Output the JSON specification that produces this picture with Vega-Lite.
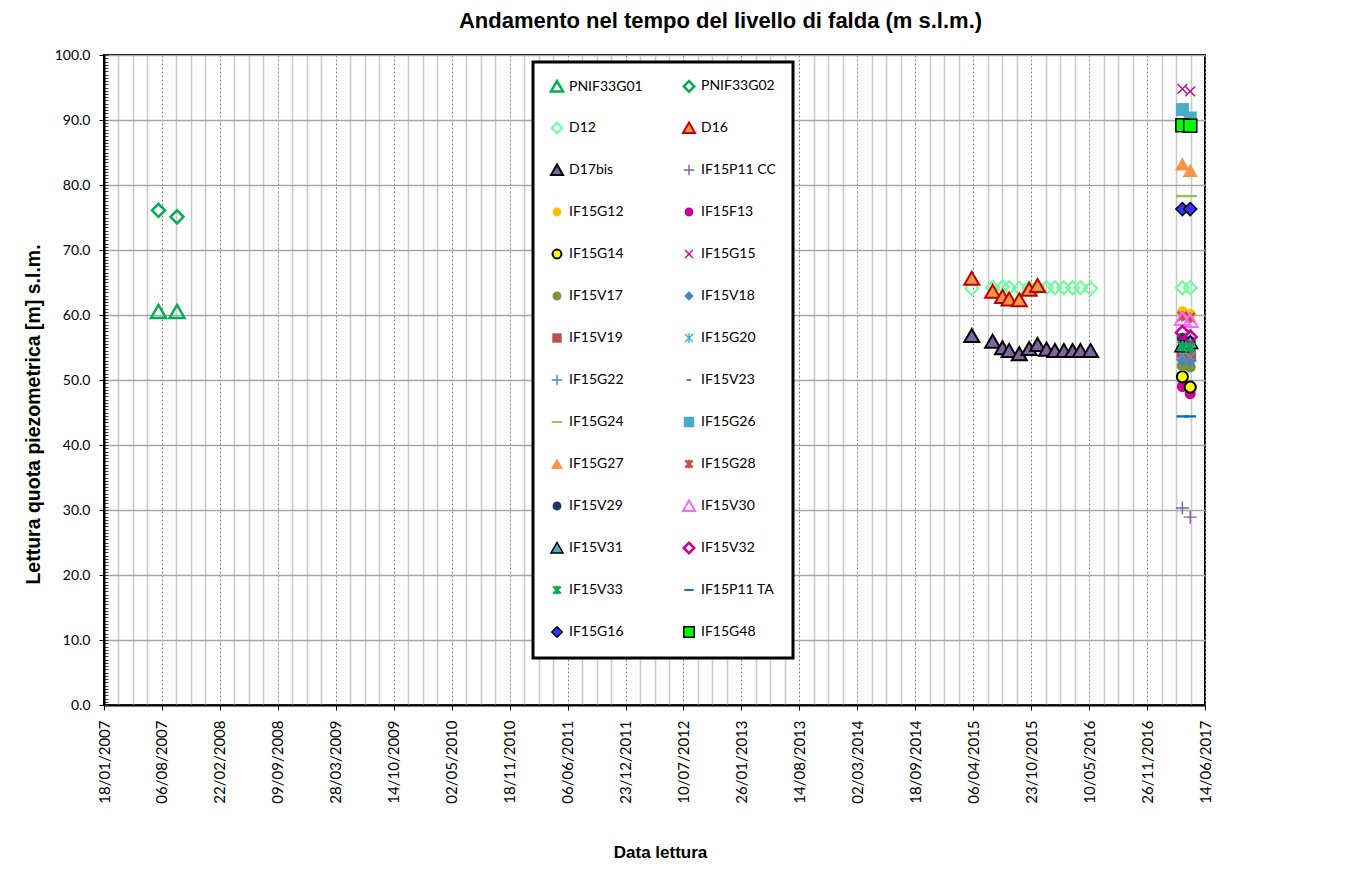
{
  "$schema": "https://vega.github.io/schema/vega-lite/v6.json",
  "width": 1101,
  "height": 650,
  "autosize": "none",
  "padding": {"left": 104, "top": 55, "right": 166, "bottom": 178},
  "background": "white",
  "title": {"text": "Andamento nel tempo del livello di falda (m s.l.m.)", "font": "Liberation Sans", "fontSize": 22, "fontWeight": "bold", "color": "black", "anchor": "middle", "frame": "group", "dx": 66, "offset": 15},
  "config": {"view": {"stroke": "black", "strokeWidth": 2}, "legend": {"strokeWidth": 3, "gridAlign": "all"}},
  "data": {"values": [
    {"serie": "PNIF33G01", "data": "2007-07-25", "quota": 60.5},
    {"serie": "PNIF33G01", "data": "2007-09-27", "quota": 60.5},
    {"serie": "PNIF33G02", "data": "2007-07-25", "quota": 76.1},
    {"serie": "PNIF33G02", "data": "2007-09-27", "quota": 75.1},
    {"serie": "D12", "data": "2015-04-01", "quota": 64.1},
    {"serie": "D12", "data": "2015-06-12", "quota": 64.2},
    {"serie": "D12", "data": "2015-07-16", "quota": 64.3},
    {"serie": "D12", "data": "2015-08-08", "quota": 64.2},
    {"serie": "D12", "data": "2015-09-12", "quota": 64.1},
    {"serie": "D12", "data": "2015-10-16", "quota": 64.2},
    {"serie": "D12", "data": "2015-11-14", "quota": 64.3},
    {"serie": "D12", "data": "2015-12-15", "quota": 64.2},
    {"serie": "D12", "data": "2016-01-13", "quota": 64.2},
    {"serie": "D12", "data": "2016-02-13", "quota": 64.2},
    {"serie": "D12", "data": "2016-03-14", "quota": 64.2},
    {"serie": "D12", "data": "2016-04-10", "quota": 64.2},
    {"serie": "D12", "data": "2016-05-15", "quota": 64.1},
    {"serie": "D12", "data": "2017-03-28", "quota": 64.2},
    {"serie": "D12", "data": "2017-04-24", "quota": 64.2},
    {"serie": "D16", "data": "2015-04-01", "quota": 65.6},
    {"serie": "D16", "data": "2015-06-12", "quota": 63.6},
    {"serie": "D16", "data": "2015-07-16", "quota": 62.8},
    {"serie": "D16", "data": "2015-08-08", "quota": 62.4},
    {"serie": "D16", "data": "2015-09-12", "quota": 62.3},
    {"serie": "D16", "data": "2015-10-16", "quota": 63.9},
    {"serie": "D16", "data": "2015-11-14", "quota": 64.5},
    {"serie": "D17bis", "data": "2015-04-01", "quota": 56.8},
    {"serie": "D17bis", "data": "2015-06-12", "quota": 55.9},
    {"serie": "D17bis", "data": "2015-07-16", "quota": 54.9},
    {"serie": "D17bis", "data": "2015-08-08", "quota": 54.5},
    {"serie": "D17bis", "data": "2015-09-12", "quota": 54.0},
    {"serie": "D17bis", "data": "2015-10-16", "quota": 54.8},
    {"serie": "D17bis", "data": "2015-11-14", "quota": 55.4},
    {"serie": "D17bis", "data": "2015-12-15", "quota": 54.7},
    {"serie": "D17bis", "data": "2016-01-13", "quota": 54.5},
    {"serie": "D17bis", "data": "2016-02-13", "quota": 54.5},
    {"serie": "D17bis", "data": "2016-03-14", "quota": 54.5},
    {"serie": "D17bis", "data": "2016-04-10", "quota": 54.5},
    {"serie": "D17bis", "data": "2016-05-15", "quota": 54.5},
    {"serie": "IF15P11 CC", "data": "2017-03-28", "quota": 30.3},
    {"serie": "IF15P11 CC", "data": "2017-04-24", "quota": 28.9},
    {"serie": "IF15G12", "data": "2017-03-28", "quota": 60.5},
    {"serie": "IF15G12", "data": "2017-04-24", "quota": 60.1},
    {"serie": "IF15F13", "data": "2017-03-28", "quota": 49.0},
    {"serie": "IF15F13", "data": "2017-04-24", "quota": 47.9},
    {"serie": "IF15G14", "data": "2017-03-28", "quota": 50.5},
    {"serie": "IF15G14", "data": "2017-04-24", "quota": 48.9},
    {"serie": "IF15G15", "data": "2017-03-28", "quota": 94.8},
    {"serie": "IF15G15", "data": "2017-04-24", "quota": 94.4},
    {"serie": "IF15V17", "data": "2017-03-28", "quota": 52.2},
    {"serie": "IF15V17", "data": "2017-04-24", "quota": 52.0},
    {"serie": "IF15V18", "data": "2017-03-28", "quota": 53.0},
    {"serie": "IF15V18", "data": "2017-04-24", "quota": 52.9},
    {"serie": "IF15V19", "data": "2017-03-28", "quota": 54.3},
    {"serie": "IF15V19", "data": "2017-04-24", "quota": 54.0},
    {"serie": "IF15G20", "data": "2017-03-28", "quota": 53.8},
    {"serie": "IF15G20", "data": "2017-04-24", "quota": 53.5},
    {"serie": "IF15G22", "data": "2017-03-28", "quota": 53.2},
    {"serie": "IF15G22", "data": "2017-04-24", "quota": 53.0},
    {"serie": "IF15V23", "data": "2017-03-28", "quota": 54.5},
    {"serie": "IF15V23", "data": "2017-04-24", "quota": 54.2},
    {"serie": "IF15G24", "data": "2017-03-28", "quota": 78.3},
    {"serie": "IF15G24", "data": "2017-04-24", "quota": 78.3},
    {"serie": "IF15G26", "data": "2017-03-28", "quota": 91.6},
    {"serie": "IF15G26", "data": "2017-04-24", "quota": 90.3},
    {"serie": "IF15G27", "data": "2017-03-28", "quota": 83.2},
    {"serie": "IF15G27", "data": "2017-04-24", "quota": 82.2},
    {"serie": "IF15G28", "data": "2017-03-28", "quota": 59.8},
    {"serie": "IF15G28", "data": "2017-04-24", "quota": 59.6},
    {"serie": "IF15V29", "data": "2017-03-28", "quota": 56.4},
    {"serie": "IF15V29", "data": "2017-04-24", "quota": 55.9},
    {"serie": "IF15V30", "data": "2017-03-28", "quota": 59.4},
    {"serie": "IF15V30", "data": "2017-04-24", "quota": 59.1},
    {"serie": "IF15V31", "data": "2017-03-28", "quota": 55.3},
    {"serie": "IF15V31", "data": "2017-04-24", "quota": 55.8},
    {"serie": "IF15V32", "data": "2017-03-28", "quota": 57.3},
    {"serie": "IF15V32", "data": "2017-04-24", "quota": 56.6},
    {"serie": "IF15V33", "data": "2017-03-28", "quota": 55.2},
    {"serie": "IF15V33", "data": "2017-04-24", "quota": 55.0},
    {"serie": "IF15P11 TA", "data": "2017-03-28", "quota": 44.4},
    {"serie": "IF15P11 TA", "data": "2017-04-24", "quota": 44.4},
    {"serie": "IF15G16", "data": "2017-03-28", "quota": 76.3},
    {"serie": "IF15G16", "data": "2017-04-24", "quota": 76.3},
    {"serie": "IF15G48", "data": "2017-03-28", "quota": 89.2},
    {"serie": "IF15G48", "data": "2017-04-24", "quota": 89.1}
  ]},
  "layer": [
    {
      "mark": {"type": "point", "opacity": 0},
      "encoding": {
        "x": {"field": "data", "type": "temporal",
          "scale": {"type": "utc", "domain": [1169078400000, 1497398400000], "nice": false},
          "axis": {"orient": "bottom", "title": null, "labels": false, "ticks": false, "domain": false, "grid": true, "gridColor": "#C8C8C8", "gridWidth": 1.5,
            "values": [1173398400000,1177718400000,1182038400000,1190678400000,1194998400000,1199318400000,1207958400000,1212278400000,1216598400000,1225238400000,1229558400000,1233878400000,1242518400000,1246838400000,1251158400000,1259798400000,1264118400000,1268438400000,1277078400000,1281398400000,1285718400000,1294358400000,1298678400000,1302998400000,1311638400000,1315958400000,1320278400000,1328918400000,1333238400000,1337558400000,1346198400000,1350518400000,1354838400000,1363478400000,1367798400000,1372118400000,1380758400000,1385078400000,1389398400000,1398038400000,1402358400000,1406678400000,1415318400000,1419638400000,1423958400000,1432598400000,1436918400000,1441238400000,1449878400000,1454198400000,1458518400000,1467158400000,1471478400000,1475798400000,1484438400000,1488758400000,1493078400000]}},
        "y": {"field": "quota", "type": "quantitative",
          "scale": {"domain": [0, 100], "nice": false, "zero": false},
          "axis": {"orient": "left", "title": null, "labels": false, "grid": false, "domain": false, "ticks": true, "tickCount": 200, "tickSize": 4, "offset": -4, "tickColor": "#404040", "tickWidth": 1}}
      }
    },
    {
      "mark": {"type": "point", "opacity": 1, "filled": true, "size": 170},
      "encoding": {
        "x": {"field": "data", "type": "temporal",
          "axis": {"orient": "bottom", "title": "Data lettura", "titleFont": "Liberation Sans", "titleFontSize": 17, "titleFontWeight": "bold", "titleColor": "black", "titleX": 556, "titleY": 147, "titleBaseline": "middle", "titleAlign": "center",
            "values": [1169078400000,1186358400000,1203638400000,1220918400000,1238198400000,1255478400000,1272758400000,1290038400000,1307318400000,1324598400000,1341878400000,1359158400000,1376438400000,1393718400000,1410998400000,1428278400000,1445558400000,1462838400000,1480118400000,1497398400000],
            "labelExpr": "utcFormat(datum.value, '%d/%m/%Y')", "labelAngle": -90, "labelFont": "Lato", "labelFontSize": 15, "labelColor": "black", "labelPadding": 10, "labelFlush": false, "labelOverlap": false,
            "tickSize": 5, "tickColor": "black", "domainColor": "black", "domainWidth": 2,
            "grid": true, "gridColor": "#808080", "gridDash": [2, 2], "gridWidth": 1}},
        "y": {"field": "quota", "type": "quantitative",
          "axis": {"orient": "left", "title": "Lettura quota piezometrica [m] s.l.m.", "titleFont": "Liberation Sans", "titleFontSize": 19.5, "titleFontWeight": "bold", "titleColor": "black", "titleX": -71, "titleY": 359, "titleAngle": -90, "titleAlign": "center", "titleBaseline": "middle",
            "values": [0, 10, 20, 30, 40, 50, 60, 70, 80, 90, 100], "format": ".1f", "labelFont": "Lato", "labelFontSize": 14, "labelColor": "black", "labelPadding": 9, "labelFlush": false,
            "tickSize": 5, "tickColor": "black", "domainColor": "black", "domainWidth": 2,
            "grid": true, "gridColor": "#A6A6A6", "gridWidth": 1.5}},
        "shape": {"field": "serie", "type": "nominal",
          "scale": {"domain": ["PNIF33G01","PNIF33G02","D12","D16","D17bis","IF15P11 CC","IF15G12","IF15F13","IF15G14","IF15G15","IF15V17","IF15V18","IF15V19","IF15G20","IF15G22","IF15V23","IF15G24","IF15G26","IF15G27","IF15G28","IF15V29","IF15V30","IF15V31","IF15V32","IF15V33","IF15P11 TA","IF15G16","IF15G48"],
            "range": ["M0,-1.05L1.15,0.95L-1.15,0.95Z","diamond","diamond","M0,-1.05L1.15,0.95L-1.15,0.95Z","M0,-1.05L1.15,0.95L-1.15,0.95Z","M-1,0H1M0,-1V1","M-0.85,0A0.85,0.85,0,1,1,0.85,0A0.85,0.85,0,1,1,-0.85,0Z","M-0.85,0A0.85,0.85,0,1,1,0.85,0A0.85,0.85,0,1,1,-0.85,0Z","M-0.85,0A0.85,0.85,0,1,1,0.85,0A0.85,0.85,0,1,1,-0.85,0Z","M-0.75,-0.75L0.75,0.75M-0.75,0.75L0.75,-0.75","M-0.85,0A0.85,0.85,0,1,1,0.85,0A0.85,0.85,0,1,1,-0.85,0Z","M-0.9,0L0,-0.9L0.9,0L0,0.9Z","M-0.9,-0.9H0.9V0.9H-0.9Z","M0,-0.9V0.9M-0.75,-0.75L0.75,0.75M-0.75,0.75L0.75,-0.75","M-1,0H1M0,-1V1","M-0.45,-0.18H0.45V0.18H-0.45Z","M-1,-0.18H1V0.18H-1Z","square","M0,-1.05L1.15,0.95L-1.15,0.95Z","M0,-0.8V0.8M-0.7,-0.7L0.7,0.7M-0.7,0.7L0.7,-0.7","M-0.85,0A0.85,0.85,0,1,1,0.85,0A0.85,0.85,0,1,1,-0.85,0Z","M0,-1.05L1.15,0.95L-1.15,0.95Z","M0,-1.05L1.15,0.95L-1.15,0.95Z","diamond","M0,-0.8V0.8M-0.7,-0.7L0.7,0.7M-0.7,0.7L0.7,-0.7","M-0.9,-0.18H0.9V0.18H-0.9Z","diamond","square"]},
          "legend": {"orient": "none", "legendX": 429, "legendY": 7, "columns": 2, "direction": "horizontal", "title": null, "zindex": 1,
            "symbolSize": 110, "labelFont": "Lato", "labelFontSize": 14, "labelColor": "black", "labelOffset": 5,
            "rowPadding": 20, "columnPadding": 34, "padding": 17, "fillColor": "white", "strokeColor": "black", "symbolOpacity": 1}},
        "fill": {"field": "serie", "type": "nominal",
          "scale": {"domain": ["PNIF33G01","PNIF33G02","D12","D16","D17bis","IF15P11 CC","IF15G12","IF15F13","IF15G14","IF15G15","IF15V17","IF15V18","IF15V19","IF15G20","IF15G22","IF15V23","IF15G24","IF15G26","IF15G27","IF15G28","IF15V29","IF15V30","IF15V31","IF15V32","IF15V33","IF15P11 TA","IF15G16","IF15G48"],
            "range": ["transparent","transparent","transparent","#F79646","#8064A2","transparent","#FFC000","#CC0099","#FFFF00","transparent","#77933C","#4F81BD","#C0504D","transparent","transparent","#C0504D","#9BBB59","#4BACC6","#F79646","transparent","#1F3864","transparent","#4BACC6","transparent","transparent","#0070C0","#3333FF","#00FF00"]}},
        "stroke": {"field": "serie", "type": "nominal",
          "scale": {"domain": ["PNIF33G01","PNIF33G02","D12","D16","D17bis","IF15P11 CC","IF15G12","IF15F13","IF15G14","IF15G15","IF15V17","IF15V18","IF15V19","IF15G20","IF15G22","IF15V23","IF15G24","IF15G26","IF15G27","IF15G28","IF15V29","IF15V30","IF15V31","IF15V32","IF15V33","IF15P11 TA","IF15G16","IF15G48"],
            "range": ["#00B050","#00B050","#66FF99","#C00000","#000000","#7B5EA7","transparent","transparent","#000000","#CC0099","transparent","transparent","transparent","#4BACC6","#4F81BD","transparent","transparent","transparent","transparent","#C0504D","transparent","#FF66FF","#000000","#CC0099","#00B050","transparent","#000000","#000000"]}},
        "strokeWidth": {"field": "serie", "type": "nominal",
          "scale": {"type": "ordinal", "domain": ["PNIF33G01","PNIF33G02","D12","D16","D17bis","IF15P11 CC","IF15G12","IF15F13","IF15G14","IF15G15","IF15V17","IF15V18","IF15V19","IF15G20","IF15G22","IF15V23","IF15G24","IF15G26","IF15G27","IF15G28","IF15V29","IF15V30","IF15V31","IF15V32","IF15V33","IF15P11 TA","IF15G16","IF15G48"],
            "range": [2.5,2.5,2,2,2,1.4,1,1,2,1.4,1,1,1,1.4,1.4,1,1,1,1,2.6,1,2,1.5,2.5,2.6,1,1.5,1.5]}}
      }
    }
  ],
  "resolve": {"axis": {"x": "independent", "y": "independent"}}
}
